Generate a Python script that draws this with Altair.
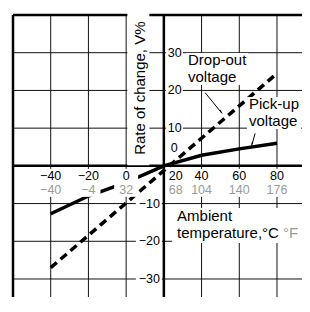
import altair as alt
import pandas as pd

# ---- data ----
temp_c = [-40, -20, 0, 20, 40, 60, 80]
temp_c_labels = ["−40", "−20", "0", "20", "40", "60", "80"]
temp_f_labels = ["−40", "−4", "32", "68", "104", "140", "176"]
pickup_v = [-12.7, -8.0, -4.4, 0.0, 2.8, 4.5, 6.0]
dropout_t = [-40, 80]
dropout_v = [-27.0, 24.5]
rate_ticks = [30, 20, 10, 0, -10, -20, -30]
rate_labels = ["30", "20", "10", "0", "−10", "−20", "−30"]
x_grid = [-40, -20, 0, 40, 60, 80]
y_grid = [30, 20, 10, -10, -20, -30]

PLOT_W, PLOT_H = 289, 282
X_DOMAIN = [-60, -60 + PLOT_W * 20 / 37.714]
Y_DOMAIN = [40 - PLOT_H * 10 / 37.714, 40]
X_AXIS_AT = 20   # the vertical axis crosses at 20 °C
Y_AXIS_AT = 0

FONT = "Liberation Sans"
TICK_FS = 12.5
ANN_FS = 15
LINE_H = 16.8
GRAY = "#9a9a9a"

xs = alt.Scale(domain=X_DOMAIN, nice=False, zero=False)
ys = alt.Scale(domain=Y_DOMAIN, nice=False, zero=False)


def X(f):
    return alt.X(f, type="quantitative", scale=xs, axis=None)


def Y(f):
    return alt.Y(f, type="quantitative", scale=ys, axis=None)


def box(df, path):
    # white background box behind a label (path in pixels around the anchor)
    return alt.Chart(df).mark_point(shape=path, filled=True, color="white", size=4,
                                    opacity=1, strokeWidth=0).encode(x=X("t"), y=Y("v"))


def text(df, field, color="black", **kw):
    return alt.Chart(df).mark_text(font=FONT, color=color, **kw).encode(
        x=X("t"), y=Y("v"), text=alt.Text(field, type="nominal"))


grid_x_df = pd.DataFrame({"t": x_grid})
grid_y_df = pd.DataFrame({"v": y_grid})
frame_x_df = pd.DataFrame({"t": [X_DOMAIN[0], X_AXIS_AT]})
frame_y_df = pd.DataFrame({"v": [Y_DOMAIN[1], Y_AXIS_AT]})
pick_df = pd.DataFrame({"t": temp_c, "v": pickup_v})
drop_df = pd.DataFrame({"t": dropout_t, "v": dropout_v})
xlab_df = pd.DataFrame({"t": temp_c, "c": temp_c_labels, "f": temp_f_labels,
                        "v": [Y_AXIS_AT] * len(temp_c)})
ylab_df = pd.DataFrame({"v": rate_ticks, "lab": rate_labels,
                        "t": [X_AXIS_AT] * len(rate_ticks)})

# annotation anchors (data units, first-line baseline)
ann_drop = pd.DataFrame({"t": [32.8], "v": [26.74], "l1": ["Drop-out"], "l2": ["voltage"]})
ann_pick = pd.DataFrame({"t": [65.15], "v": [15.08], "l1": ["Pick-up"], "l2": ["voltage"]})
ann_amb = pd.DataFrame({"t": [27.0], "v": [-14.62], "l1": ["Ambient"], "l2": ["temperature,°C"]})
ann_f = pd.DataFrame({"t": [83.2], "v": [-19.07], "lab": ["°F"]})
ann_title = pd.DataFrame({"t": [10.2], "v": [20.6], "lab": ["Rate of change, V%"]})
leaders = pd.DataFrame({"t": [41.9, 68.4], "v": [19.4, 8.6],
                        "t2": [50.7, 66.7], "v2": [14.0, 5.6]})
arrow_tips = pd.DataFrame({"t": [50.2, 66.8], "v": [14.4, 5.9], "ang": [142, 195]})

layers = []
layers.append(alt.Chart(grid_x_df).mark_rule(color="#111", strokeWidth=1).encode(x=X("t")))
layers.append(alt.Chart(grid_y_df).mark_rule(color="#111", strokeWidth=1).encode(y=Y("v")))
layers.append(alt.Chart(frame_x_df).mark_rule(color="black", strokeWidth=2.5).encode(x=X("t")))
layers.append(alt.Chart(frame_y_df).mark_rule(color="black", strokeWidth=2.5).encode(y=Y("v")))

layers.append(alt.Chart(drop_df).mark_line(color="black", strokeWidth=3.5, strokeDash=[8, 5])
              .encode(x=X("t"), y=Y("v")))
layers.append(alt.Chart(pick_df).mark_line(color="black", strokeWidth=3.5)
              .encode(x=X("t"), y=Y("v")))

neg_x = xlab_df[xlab_df.t != X_AXIS_AT]
at_x = xlab_df[xlab_df.t == X_AXIS_AT]
pos_y = ylab_df[ylab_df.v > 0]
zero_y = ylab_df[ylab_df.v == 0]
neg_y = ylab_df[ylab_df.v < 0]

# white label backgrounds
layers += [
    box(neg_x, "M-12,3H12V31H-12Z"),
    box(at_x, "M3,3H21V31H3Z"),
    box(pos_y, "M2,-6H19V6H2Z"),
    box(zero_y, "M5,-25H16V-11H5Z"),
    box(neg_y, "M-28,-6H-2V6H-28Z"),
    box(ann_drop, "M-2,-12H60V20H-2Z"),
    box(ann_pick, "M-2,-12H52V20H-2Z"),
    box(ann_amb, "M-5,-13H130V22H-5Z"),
    box(ann_title, "M-18,-77H4V77H-18Z"),
]

layers.append(alt.Chart(leaders).mark_rule(color="black", strokeWidth=1)
              .encode(x=X("t"), y=Y("v"), x2=alt.X2("t2"), y2=alt.Y2("v2")))
layers.append(alt.Chart(arrow_tips).mark_point(shape="wedge", filled=True, color="black",
                                               size=40, opacity=1)
              .encode(x=X("t"), y=Y("v"), angle=alt.Angle("ang:Q", scale=None)))

# x tick labels (°C black, °F gray)
for df, kw in ((neg_x, dict(align="center")), (at_x, dict(align="left", dx=5))):
    layers.append(text(df, "c", fontSize=TICK_FS, baseline="middle", dy=10, **kw))
    layers.append(text(df, "f", color=GRAY, fontSize=TICK_FS, baseline="middle", dy=24, **kw))

# y tick labels
layers.append(text(pos_y, "lab", fontSize=TICK_FS, align="left", baseline="middle", dx=4))
layers.append(text(zero_y, "lab", fontSize=TICK_FS, align="left", baseline="middle", dx=7, dy=-18))
layers.append(text(neg_y, "lab", fontSize=TICK_FS, align="right", baseline="middle", dx=-4))

# annotations (one text mark per line)
for df in (ann_drop, ann_pick, ann_amb):
    layers.append(text(df, "l1", fontSize=ANN_FS, align="left", baseline="alphabetic"))
    layers.append(text(df, "l2", fontSize=ANN_FS, align="left", baseline="alphabetic", dy=LINE_H))
layers.append(text(ann_f, "lab", color=GRAY, fontSize=ANN_FS, align="left",
                   baseline="alphabetic"))
layers.append(text(ann_title, "lab", fontSize=ANN_FS, align="center",
                   baseline="alphabetic", angle=270))

chart = alt.layer(*layers).properties(
    width=PLOT_W, height=PLOT_H,
    padding={"left": 5, "top": 7, "right": 0, "bottom": 0},
    autosize=alt.AutoSizeParams(type="none"),
).configure_view(stroke=None)

chart.save("out.html", embed_options={"renderer": "svg", "actions": False})
